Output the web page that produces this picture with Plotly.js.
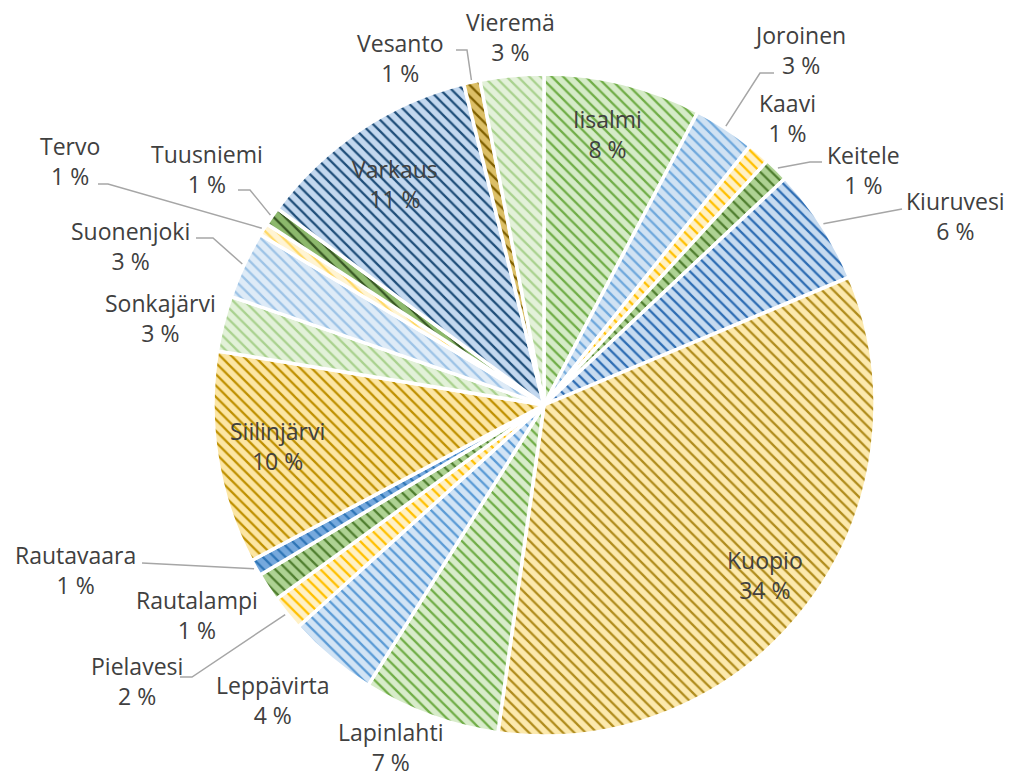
<!DOCTYPE html>
<html>
<head>
<meta charset="utf-8">
<script src="https://cdn.plot.ly/plotly-3.0.1.min.js"></script>
<style>
  html, body { margin: 0; padding: 0; background: #ffffff; }
  #chart { width: 1013px; height: 780px; }
</style>
</head>
<body>
<div id="chart"></div>
<script>
// Municipalities (clockwise from 12 o'clock)
const municipalities = ["Iisalmi", "Joroinen", "Kaavi", "Keitele", "Kiuruvesi", "Kuopio",
  "Lapinlahti", "Leppävirta", "Pielavesi", "Rautalampi", "Rautavaara", "Siilinjärvi",
  "Sonkajärvi", "Suonenjoki", "Tervo", "Tuusniemi", "Varkaus", "Vesanto", "Vieremä"];
// Share (%)
const shares = [7.7, 3.0, 1.1, 1.2, 5.7, 33.55, 6.7, 4.4, 1.7, 1.4, 0.8, 10.4,
  2.7, 3.3, 0.6, 0.9, 11.0, 0.8, 3.1];

// Styles: background (light) and stripe (dark) colours per slice
const bgColors = ["#d5ebc7", "#d0e2f3", "#fff1c6", "#aed293", "#c7dbf0", "#fce9ad",
  "#d8ecca", "#d2e4f5", "#fff1c6", "#aed293", "#76a9dd", "#fce6a4",
  "#e2f1d8", "#deebf7", "#fff4d3", "#8cb86c", "#c3d8ef", "#dcbf66", "#e3f1d9"];
const fgColors = ["#70ad47", "#6fa8dc", "#ffc000", "#4f7e2f", "#2e6db3", "#b08c1c",
  "#70ad47", "#5b9bd5", "#ffc000", "#4f7e2f", "#2e75b6", "#bf9000",
  "#a9d18e", "#9dc3e6", "#ffd966", "#375623", "#1f4e79", "#7f6000", "#a9d18e"];

// Figure geometry (pixels)
const W = 1013, H = 780;
const CX = 544, CY = 405, R = 331;

// Label placement (pixel centre of each label block) and optional leader line
// start / elbow points (pixels). The line end is taken from the slice angle.
const labelPlacement = {
  "Iisalmi":     { pos: [607, 134] },
  "Joroinen":    { pos: [800, 50],  line: [[774, 73], [760, 73]] },
  "Kaavi":       { pos: [787, 118] },
  "Keitele":     { pos: [863, 170], line: [[822, 162], [810, 162]] },
  "Kiuruvesi":   { pos: [955, 216], line: [[902, 209]] },
  "Kuopio":      { pos: [765, 575] },
  "Lapinlahti":  { pos: [390, 747] },
  "Leppävirta":  { pos: [273, 700] },
  "Pielavesi":   { pos: [137, 681], line: [[180, 677], [192, 677]] },
  "Rautalampi":  { pos: [197, 615] },
  "Rautavaara":  { pos: [75, 570],  line: [[142, 563]] },
  "Siilinjärvi": { pos: [277, 446] },
  "Sonkajärvi":  { pos: [160, 318] },
  "Suonenjoki":  { pos: [130, 246], line: [[196, 238], [213, 238]] },
  "Tervo":       { pos: [70, 161],  line: [[98, 184], [108, 184]] },
  "Tuusniemi":   { pos: [207, 169], line: [[238, 190], [250, 190]] },
  "Varkaus":     { pos: [395, 184] },
  "Vesanto":     { pos: [400, 58],  line: [[456, 50], [467, 50]] },
  "Vieremä":     { pos: [510, 37] }
};

const FONT = "'Open Sans', Lato, sans-serif";
const total = shares.reduce((a, b) => a + b, 0);
const pctText = shares.map(v => Math.round(v / total * 100) + " %");

const px = x => x / W;
const py = y => 1 - y / H;

const trace = {
  type: "pie",
  labels: municipalities,
  values: shares,
  text: pctText,
  textinfo: "none",
  hoverinfo: "label+text",
  sort: false,
  direction: "clockwise",
  rotation: 0,
  domain: { x: [px(CX - R), px(CX + R)], y: [py(CY + R), py(CY - R)] },
  marker: {
    colors: bgColors,
    line: { color: "#ffffff", width: 3.5 },
    pattern: { shape: "\\", fgcolor: fgColors, bgcolor: bgColors, size: 8, solidity: 0.28, fillmode: "replace" }
  },
  showlegend: false
};

// Labels and leader lines
const annotations = [];
const shapes = [];
let cum = 0;
municipalities.forEach((m, i) => {
  const frac = shares[i] / total;
  const mid = (cum + frac / 2) * 2 * Math.PI;
  cum += frac;
  const cfg = labelPlacement[m];
  annotations.push({
    xref: "paper", yref: "paper",
    x: px(cfg.pos[0]), y: py(cfg.pos[1]),
    xanchor: "center", yanchor: "middle",
    text: m + "<br>" + pctText[i],
    showarrow: false,
    align: "center",
    font: { family: FONT, size: 23, color: "#404040" }
  });
  if (cfg.line) {
    const end = [CX + (R + 2) * Math.sin(mid), CY - (R + 2) * Math.cos(mid)];
    const pts = cfg.line.concat([end]);
    const path = pts.map((p, k) => (k === 0 ? "M" : "L") + px(p[0]) + "," + py(p[1])).join(" ");
    shapes.push({
      type: "path", xref: "paper", yref: "paper", path: path,
      line: { color: "#a6a6a6", width: 1.5 }
    });
  }
});

const layout = {
  width: W,
  height: H,
  margin: { l: 0, r: 0, t: 0, b: 0 },
  paper_bgcolor: "#ffffff",
  plot_bgcolor: "#ffffff",
  showlegend: false,
  font: { family: FONT, color: "#404040" },
  annotations: annotations,
  shapes: shapes
};

Plotly.newPlot("chart", [trace], layout, { displayModeBar: false, staticPlot: true });
</script>
</body>
</html>
